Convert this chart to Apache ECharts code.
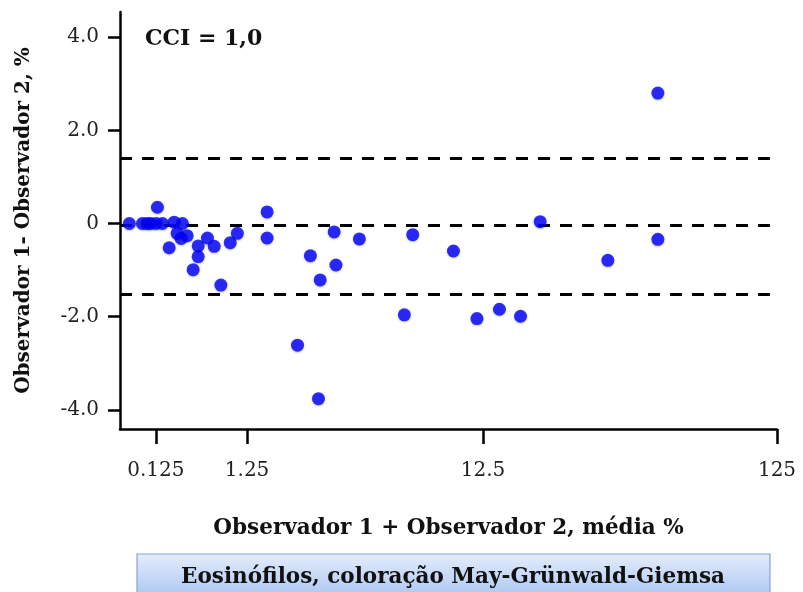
<!DOCTYPE html>
<html>
<head>
<meta charset="utf-8">
<script src="https://cdn.jsdelivr.net/npm/echarts@6/dist/echarts.min.js"></script>
<style>html,body{margin:0;padding:0;background:#fff}#c{width:803px;height:592px}</style>
</head>
<body>
<div id="c"></div>
<script>
// Mean of the two observers (%)
const means = [-0.08, 0.016, 0.053, 0.083, 0.128, 0.139, 0.183, 0.293, 0.377,
  0.323, 0.364, 0.427, 0.245, 0.552, 0.552, 0.665, 0.753, 0.494, 0.844, 0.98, 1.09,
  1.62, 1.62, 2.64, 3.36, 3.42, 2.92, 4.28, 6.92, 6.43, 2.30, 2.87, 9.79,
  19.85, 33.86, 49.98, 49.98, 11.9, 14.3, 16.96];
// Difference Observer 1 - Observer 2 (%)
const diffs = [0, 0, 0, 0, 0, 0.35, 0, 0.03, 0,
  -0.21, -0.32, -0.26, -0.52, -0.48, -0.71, -0.31, -0.49, -0.99, -1.32, -0.41, -0.21,
  0.25, -0.31, -0.69, -0.18, -0.89, -1.21, -0.33, -0.24, -1.96, -2.61, -3.76, -0.59,
  0.04, -0.79, -0.34, 2.80, -2.04, -1.84, -1.99];
// Upper limit of agreement, mean bias, lower limit
const limits = [1.41, -0.04, -1.51];
const xTicks = [0.125, 1.25, 12.5, 125];
const yTicks = [-4, -2, 0, 2, 4];
const xMinRaw = -0.143, xMaxRaw = 125;

const tf = v => Math.log10(v + 1);
const pts = means.map((m, i) => [tf(m), diffs[i]]);
const serif = 'DejaVu Serif';

const chart = echarts.init(document.getElementById('c'));
chart.setOption({
  animation: false,
  backgroundColor: '#fff',
  grid: {left: 120, right: 26, top: 12, bottom: 163},
  xAxis: {
    type: 'value', min: tf(xMinRaw), max: tf(xMaxRaw),
    name: 'Observador 1 + Observador 2, média %',
    nameLocation: 'middle', nameGap: 88,
    nameTextStyle: {fontFamily: serif, fontWeight: 'bold', fontSize: 21.5, color: '#111'},
    axisLine: {onZero: false, lineStyle: {color: '#000', width: 2.5}},
    axisTick: {customValues: xTicks.map(tf), length: 15, lineStyle: {color: '#000', width: 2.5}},
    axisLabel: {
      customValues: xTicks.map(tf), margin: 32,
      fontFamily: serif, fontSize: 20, color: '#222',
      formatter: v => {
        const i = xTicks.findIndex(t => Math.abs(tf(t) - v) < 1e-6);
        return i >= 0 ? String(xTicks[i]) : '';
      }
    },
    splitLine: {show: false}
  },
  yAxis: {
    type: 'value', min: -4.41, max: 4.54,
    name: 'Observador 1- Observador 2, %',
    nameLocation: 'middle', nameGap: 86, nameRotate: 90,
    nameTextStyle: {fontFamily: serif, fontWeight: 'bold', fontSize: 20, color: '#111'},
    axisLine: {onZero: false, lineStyle: {color: '#000', width: 2.5}},
    axisTick: {customValues: yTicks, length: 12, lineStyle: {color: '#000', width: 2.5}},
    axisLabel: {
      customValues: yTicks, margin: 21,
      fontFamily: serif, fontSize: 20, color: '#222',
      formatter: v => v === 0 ? '0' : v.toFixed(1)
    },
    splitLine: {show: false}
  },
  series: [{
    type: 'scatter',
    data: [],
    z: 1,
    markLine: {
      silent: true, symbol: 'none',
      label: {show: false},
      lineStyle: {color: '#000', width: 3, type: [12, 10]},
      data: limits.map(v => ({yAxis: v}))
    }
  }, {
    type: 'scatter',
    data: pts,
    symbolSize: 13,
    z: 5,
    itemStyle: {color: '#0000ff', shadowBlur: 2, shadowColor: 'rgba(0,0,0,0.3)', shadowOffsetY: 1}
  }],
  graphic: [
    {type: 'text', left: 145, top: 28,
      style: {text: 'CCI = 1,0', fontFamily: serif, fontWeight: 'bold', fontSize: 22, fill: '#111'}},
    {type: 'rect', shape: {x: 137, y: 554, width: 633, height: 45},
      style: {
        fill: new echarts.graphic.LinearGradient(0, 0, 0, 1, [
          {offset: 0, color: '#e4edfc'}, {offset: 1, color: '#a9c4f0'}]),
        stroke: '#86a3d6', lineWidth: 1.2
      }},
    {type: 'text', x: 453, y: 577,
      style: {text: 'Eosinófilos, coloração May-Grünwald-Giemsa', fontFamily: serif, fontWeight: 'bold',
        fontSize: 21.5, fill: '#111', align: 'center', verticalAlign: 'middle'}}
  ]
});
</script>
</body>
</html>
